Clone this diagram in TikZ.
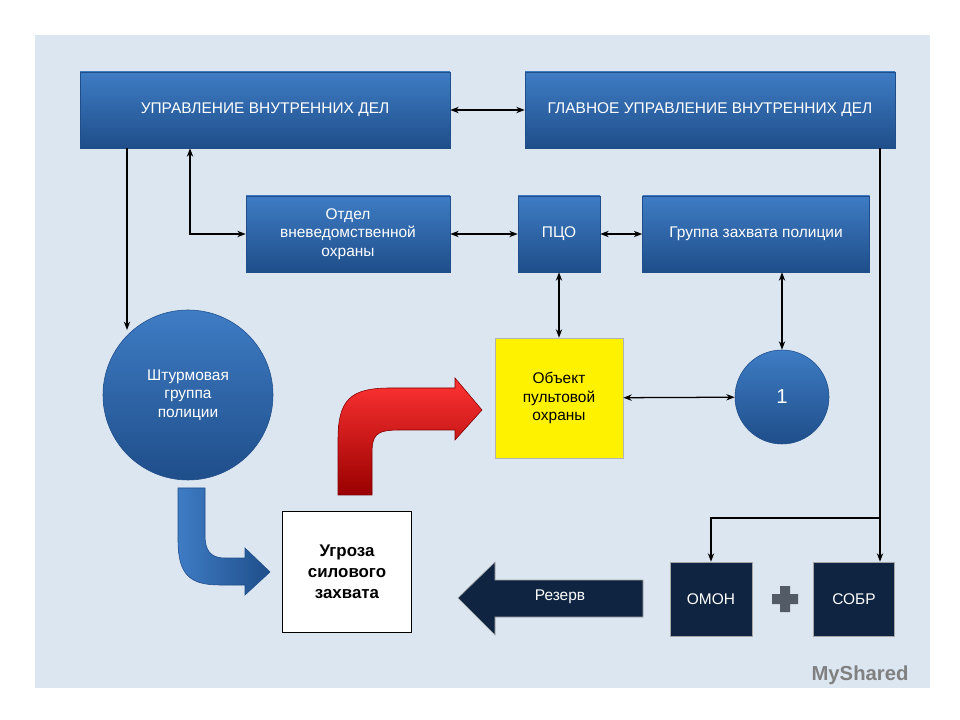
\documentclass[tikz,border=0pt]{standalone}
\usepackage{fontspec}
\setmainfont{Liberation Sans}
\usetikzlibrary{arrows.meta,shapes.geometric}
\definecolor{bg}{HTML}{DCE6F1}
\definecolor{bb}{HTML}{3E7CC4}
\definecolor{bbd}{HTML}{1F4E8A}
\definecolor{nav}{HTML}{0F2440}
\begin{document}
\begin{tikzpicture}[x=0.025cm,y=-0.025cm,
 sz/.style 2 args={minimum width={#1*0.025cm},minimum height={#2*0.025cm}},
 box/.style={draw=bbd,top color=bb,bottom color=bbd,text=white,font=\fontsize{11}{13}\selectfont,align=center,inner sep=0pt},
 dark/.style={draw=gray!70,fill=nav,text=white,font=\fontsize{11}{13}\selectfont,align=center,inner sep=0pt},
 con/.style={line width=0.9pt,{Stealth[length=6pt]}-{Stealth[length=6pt]}},
 one/.style={line width=0.9pt,-{Stealth[length=6pt]}}]
\useasboundingbox (0,0) rectangle (960,720);
\fill[bg] (35,35) rectangle (930,688);
\node[box,sz={370}{76}] (uvd) at (265,110) {УПРАВЛЕНИЕ ВНУТРЕННИХ ДЕЛ};
\node[box,sz={370}{76}] (guvd) at (710,110) {ГЛАВНОЕ УПРАВЛЕНИЕ ВНУТРЕННИХ ДЕЛ};
\node[box,sz={204}{76}] (ovo) at (348,234) {Отдел\\вневедомственной\\охраны};
\node[box,sz={82}{76}] (pco) at (559,234) {ПЦО};
\node[box,sz={227}{76}] (gz) at (756,234) {Группа захвата полиции};
\node[box,circle,minimum size={170*0.025cm}] (sh) at (188,395) {Штурмовая\\группа\\полиции};
\node[draw=gray!60,fill=yellow,sz={128}{120},font=\fontsize{11}{13}\selectfont,align=center] (obj) at (559,398) {Объект\\пультовой\\охраны};
\node[box,circle,minimum size={94*0.025cm},font=\Large] (c1) at (782,397) {1};
\node[draw=black,line width=1.2pt,fill=white,sz={129}{121},font=\fontsize{12}{15}\selectfont\bfseries,align=center] (ug) at (347,572) {Угроза\\силового\\захвата};
\node[dark,sz={82}{74}] (omon) at (711,599) {ОМОН};
\node[dark,sz={81}{74}] (sobr) at (854,599) {СОБР};
% reserve arrow
\draw[gray!70,fill=nav] (643,580) -- (495,580) -- (495,562) -- (458,598) -- (495,635) -- (495,617) -- (643,617) -- cycle;
\node[text=white,font=\fontsize{11}{13}\selectfont] (rez) at (560,597) {Резерв};
% plus
\fill[gray!60!nav] (780,586) rectangle (790,612) (772,594) rectangle (798,604);
% red curved arrow
\shade[top color=red!80!white,bottom color=red!60!black,draw=red!50!black]
 (338,495) -- (338,440) .. controls (338,400) and (350,388) .. (390,388) -- (455,388) -- (455,378) -- (482,410) -- (455,440) -- (455,430) -- (400,430) .. controls (375,430) and (372,435) .. (372,455) -- (372,495) -- cycle;
% blue curved arrow
\shade[left color=bb,right color=bbd,draw=bbd]
 (178,488) -- (178,540) .. controls (178,575) and (190,585) .. (220,585) -- (245,585) -- (245,595) -- (270,572) -- (245,548) -- (245,558) -- (225,558) .. controls (210,558) and (205,550) .. (205,535) -- (205,488) -- cycle;
% connectors
\draw[con] (uvd) -- (guvd);
\draw[one] (uvd.south -| 127,0) -- (127,330);
\draw[con] (uvd.south -| 190,0) -- (190,234) -- (ovo.west);
\draw[con] (ovo) -- (pco);
\draw[con] (pco) -- (gz);
\draw[con] (pco) -- (obj);
\draw[con] (gz.south -| c1) -- (c1);
\draw[con] (obj) -- (c1);
\draw[one] (guvd.south -| 880,0) -- (sobr.north -| 880,0);
\coordinate (br) at (880,518);
\draw[one] (br) -- (711,518) -- (omon.north);
\node[gray,font=\bfseries\Large] (ms) at (860,675) {MyShared};
\end{tikzpicture}
\end{document}
